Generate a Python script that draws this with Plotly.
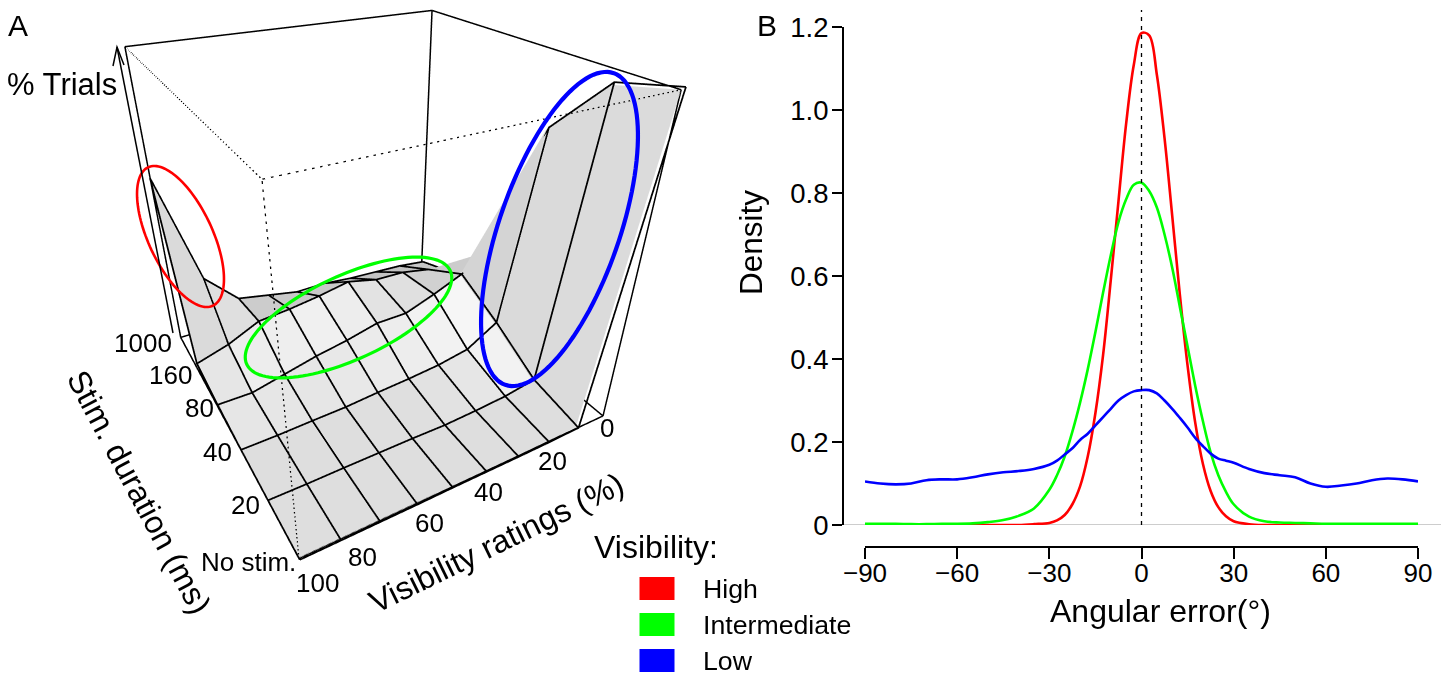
import numpy as np
import plotly.graph_objects as go

W, H = 1452, 675
FONT = "Liberation Sans"

# ---------- Panel A data ----------
visibility = [0, 11.1, 22.2, 33.3, 44.4, 55.6, 66.7, 77.8, 88.9, 100]
duration_labels = ["No stim.", "20", "40", "80", "160", "1000"]
row_nostim = [100.0, 0.6, 0.3, 0.2, 0.2, 0.2, 0.1, 0.1, 0.1, 0.1]
row_20 = [95.9, 3.9, 1.9, 1.0, 0.4, 0.5, 0.4, 0.3, 0.1, 0.1]
row_40 = [77.8, 13.2, 6.3, 4.2, 3.1, 2.3, 1.3, 0.9, 0.4, 0.2]
row_80 = [27.0, 20.9, 16.2, 12.1, 11.9, 9.0, 6.8, 3.9, 1.0, 1.0]
row_160 = [7.2, 11.9, 14.0, 14.3, 16.9, 14.6, 12.9, 11.8, 6.3, 2.6]
row_1000 = [1.4, 2.7, 3.2, 3.7, 4.8, 4.6, 6.8, 9.0, 20.9, 60.4]
vis_ticks = ["0", "20", "40", "60", "80", "100"]
# grey level of each facet (rows between durations, columns between visibility levels)
shade_0 = [.86, .87, .87, .87, .87, .87, .87, .87, .87]
shade_1 = [.855, .95, .90, .885, .875, .875, .87, .87, .87]
shade_2 = [.83, .965, .95, .93, .92, .91, .90, .90, .90]
shade_3 = [.80, .82, .88, .89, .93, .94, .935, .93, .90]
shade_4 = [.78, .76, .77, .78, .79, .79, .80, .875, .855]

# ---------- Panel B data ----------
angle = [-90, -85, -80, -75, -70, -65, -60, -55, -50, -45, -40, -35, -30, -27.5, -25, -22.5, -20, -17.5, -15, -12.5, -10, -7.5, -5, -2.5, 0,
         2.5, 5, 7.5, 10, 12.5, 15, 17.5, 20, 22.5, 25, 27.5, 30, 35, 40, 45, 50, 55, 60, 65, 70, 75, 80, 85, 90]
high = [0, 0, 0, 0, 0, 0, 0, 0, 0, 0, 0, 0.002, 0.005, 0.011, 0.024, 0.05, 0.093, 0.165, 0.27, 0.41, 0.59, 0.78, 0.967, 1.109, 1.185,
        1.18, 1.085, 0.932, 0.745, 0.554, 0.384, 0.246, 0.147, 0.082, 0.043, 0.021, 0.009, 0.002, 0, 0, 0, 0, 0, 0, 0, 0, 0, 0, 0]
intermediate = [0.003, 0.003, 0.003, 0.002, 0.002, 0.003, 0.003, 0.004, 0.007, 0.012, 0.022, 0.04, 0.085, 0.12, 0.165, 0.225, 0.295, 0.375, 0.465, 0.56, 0.65, 0.73, 0.785, 0.82, 0.825,
                0.805, 0.765, 0.70, 0.62, 0.525, 0.43, 0.335, 0.25, 0.175, 0.12, 0.08, 0.05, 0.02, 0.009, 0.006, 0.005, 0.004, 0.003, 0.003, 0.003, 0.003, 0.003, 0.003, 0.003]
low = [0.105, 0.1, 0.098, 0.1, 0.108, 0.11, 0.11, 0.115, 0.122, 0.127, 0.13, 0.135, 0.145, 0.155, 0.17, 0.185, 0.205, 0.22, 0.24, 0.26, 0.28, 0.30, 0.313, 0.322, 0.325,
       0.325, 0.317, 0.30, 0.28, 0.258, 0.235, 0.21, 0.19, 0.172, 0.16, 0.155, 0.15, 0.135, 0.125, 0.12, 0.115, 0.1, 0.092, 0.095, 0.1, 0.108, 0.112, 0.11, 0.105]
legend_names = ["High", "Intermediate", "Low"]
legend_colors = ["#ff0000", "#00ff00", "#0000ff"]

# ---------- helpers ----------
def px(x): return x / W
def py(y): return 1 - y / H

Z = np.array([row_nostim, row_20, row_40, row_80, row_160, row_1000])
SH = np.array([shade_0, shade_1, shade_2, shade_3, shade_4])
V = np.array(visibility)
R = np.array([5 - j for j in range(len(duration_labels))], float)  # depth position of each duration row
ASPECT = (1.03, 1.0462, 1.019)

verts_x, verts_y, verts_z = [], [], []
for j in range(Z.shape[0]):
    for i in range(Z.shape[1]):
        verts_x.append(V[i]); verts_y.append(R[j]); verts_z.append(Z[j, i])
nc = Z.shape[1]
tri_i, tri_j, tri_k, colors = [], [], [], []
for j in range(Z.shape[0] - 1):
    for i in range(nc - 1):
        a, b, c, d = j*nc+i, j*nc+i+1, (j+1)*nc+i+1, (j+1)*nc+i
        g = int(round(SH[j, i]*255))
        col = f"rgb({g},{g},{g})"
        tri_i += [a, a]; tri_j += [b, c]; tri_k += [c, d]; colors += [col, col]

fig = go.Figure()
fig.add_trace(go.Mesh3d(x=verts_x, y=verts_y, z=verts_z, i=tri_i, j=tri_j, k=tri_k, facecolor=colors,
                        flatshading=True, hoverinfo="skip", showscale=False,
                        lighting=dict(ambient=1, diffuse=0, specular=0, roughness=1, fresnel=0)))

# wire lines nudged a hair toward the viewer so they sit on top of the facets
OFF = (0.25, 0.06, 1.0)
wx, wy, wz = [], [], []
for i in range(nc):
    wx += [V[i] + OFF[0]]*len(R) + [None]; wy += list(R + OFF[1]) + [None]; wz += list(Z[:, i] + OFF[2]) + [None]
for j in range(Z.shape[0]):
    wx += list(V + OFF[0]) + [None]; wy += [R[j] + OFF[1]]*nc + [None]; wz += list(Z[j] + OFF[2]) + [None]
fig.add_trace(go.Scatter3d(x=wx, y=wy, z=wz, mode="lines", line=dict(color="black", width=3.5), hoverinfo="skip", showlegend=False, connectgaps=False))

# box
x0, x1, y0, y1, z0, z1 = 0, 100, 0, 5, 0, 100
solid = [((x1,y1,z0),(x0,y1,z0)), ((x1,y1,z0),(x1,y0,z0)), ((x1,y0,z0),(x0,y0,z0)), ((x0,y0,z0),(x0,y1,z0)),
         ((x1,y0,z1),(x0,y0,z1)), ((x0,y0,z1),(x0,y1,z1)),
         ((x1,y0,z0),(x1,y0,z1)), ((x0,y0,z0),(x0,y0,z1)), ((x0,y1,z0),(x0,y1,z1))]
dotted = [((x1,y1,z0),(x1,y1,z1)), ((x1,y1,z1),(x1,y0,z1)), ((x1,y1,z1),(x0,y1,z1))]
def seg(lst):
    xs, ys, zs = [], [], []
    for a, b in lst:
        xs += [a[0], b[0], None]; ys += [a[1], b[1], None]; zs += [a[2], b[2], None]
    return xs, ys, zs
sx, sy, sz = seg(solid)
fig.add_trace(go.Scatter3d(x=sx, y=sy, z=sz, mode="lines", line=dict(color="black", width=3), hoverinfo="skip", showlegend=False))
dx, dy, dz = seg(dotted)
fig.add_trace(go.Scatter3d(x=dx, y=dy, z=dz, mode="lines", line=dict(color="black", width=2.5, dash="dot"), hoverinfo="skip", showlegend=False))

noaxis = dict(visible=False, showgrid=False, zeroline=False, showspikes=False)
scene = dict(domain=dict(x=[0, 754/W], y=[1-568/H, 1]),
             xaxis=dict(range=[-1.5, 101.5], **noaxis), yaxis=dict(range=[-0.075, 5.075], **noaxis), zaxis=dict(range=[-1.5, 101.5], **noaxis),
             aspectmode="manual", aspectratio=dict(x=ASPECT[0], y=ASPECT[1], z=ASPECT[2]),
             camera=dict(eye=dict(x=0.8468, y=1.5064, z=0.9542), center=dict(x=0.0182, y=0.0376, z=-0.121), up=dict(x=0, y=0, z=1),
                         projection=dict(type="perspective")))

# ---------- Panel B ----------
for name, vals, col in zip(legend_names, [high, intermediate, low], legend_colors):
    fig.add_trace(go.Scatter(x=angle, y=vals, mode="lines", name=name, line=dict(color=col, width=2.6, shape="spline", smoothing=1.0),
                             showlegend=False, xaxis="x", yaxis="y", hoverinfo="skip"))

fontc = dict(family=FONT, color="black")
xax = dict(domain=[865/W, 1418/W], range=[-90, 90], anchor="free", position=py(547), showgrid=False, zeroline=False,
           tickmode="array", tickvals=[-90, -60, -30, 0, 30, 60, 90], ticks="outside", ticklen=11, tickwidth=2, ticklabelstandoff=-8,
           showline=True, linewidth=2, linecolor="black", tickcolor="black", tickfont=dict(size=26, **fontc))
yax = dict(domain=[py(525), py(27)], range=[0, 1.2], anchor="free", position=px(843), showgrid=False, zeroline=False,
           tickmode="array", tickvals=[0, .2, .4, .6, .8, 1.0, 1.2], ticktext=["0", "0.2", "0.4", "0.6", "0.8", "1.0", "1.2"],
           ticks="outside", ticklen=10, tickwidth=2, ticklabelstandoff=-2, showline=True, linewidth=2, linecolor="black", tickcolor="black",
           tickfont=dict(size=27.5, **fontc))

shapes = [
    dict(type="line", xref="paper", yref="y", x0=px(843), x1=px(1441), y0=0, y1=0, line=dict(color="#bdbdbd", width=1.5), layer="below"),
    dict(type="line", xref="x", yref="paper", x0=0, x1=0, y0=py(525), y1=py(10), line=dict(color="black", width=1.3, dash="4px,5px")),
]
def ellipse(cx, cy, a, b, deg, color, width):
    th = np.radians(deg); t = np.linspace(0, 2*np.pi, 121)
    xs = cx + a*np.cos(t)*np.cos(th) - b*np.sin(t)*np.sin(th)
    ys = cy + a*np.cos(t)*np.sin(th) + b*np.sin(t)*np.cos(th)
    path = "M " + " L ".join(f"{px(x):.5f},{py(y):.5f}" for x, y in zip(xs, ys)) + " Z"
    return dict(type="path", path=path, xref="paper", yref="paper", line=dict(color=color, width=width))
shapes += [ellipse(180.5, 236.5, 76.4, 32, 64.9, "#ff0000", 2.6),
           ellipse(348.5, 317.5, 112, 42, -24.7, "#00ff00", 3.2),
           ellipse(559.5, 229, 165, 60, -70.8, "#0000ff", 4.2)]
def pline(pts, width=1.5):
    path = "M " + " L ".join(f"{px(x):.5f},{py(y):.5f}" for x, y in pts)
    return dict(type="path", path=path, xref="paper", yref="paper", line=dict(color="black", width=width))
shapes += [pline([(173, 333), (117, 47)]), pline([(113, 66), (117, 47), (124, 65)])]
for yy, col in zip([577, 613, 649], legend_colors):
    shapes.append(dict(type="rect", xref="paper", yref="paper", x0=px(639.5), x1=px(674.5), y0=py(yy), y1=py(yy+23), fillcolor=col, line=dict(width=0)))

def note(text, x, y, size, angle=0, anchor="center"):
    return dict(text=text, x=px(x), y=py(y), xref="paper", yref="paper", xanchor=anchor, yanchor="middle", showarrow=False,
                font=dict(size=size, **fontc), textangle=angle, align="center")
ann = [note("A", 18, 26, 30), note("B", 767, 26, 30), note("% Trials", 62, 85, 31),
       note("Density", 751, 243, 31.5, -90), note("Angular error(°)", 1160, 611, 32),
       note("Stim. duration (ms)", 139, 492, 32, 62), note("Visibility ratings (%)", 496, 543, 32, -26),
       note("Visibility:", 592, 547, 32, anchor="left")]
for lab, y in zip(legend_names, [589, 625, 661]):
    ann.append(note(lab, 701, y, 26.7, anchor="left"))
for lab, (x, y) in zip(duration_labels, [(248, 562), (245, 505), (217, 452), (199, 408), (170, 375), (143, 343)]):
    ann.append(note(lab, x, y, 26))
for lab, (x, y) in zip(vis_ticks, [(607, 428), (552, 461), (488, 492), (429, 523), (362, 557), (317, 583)]):
    ann.append(note(lab, x, y, 26))

fig.update_layout(width=W, height=H, margin=dict(l=0, r=0, t=0, b=0, autoexpand=False), paper_bgcolor="white", plot_bgcolor="rgba(0,0,0,0)",
                  scene=scene, xaxis=xax, yaxis=yax, shapes=shapes, annotations=ann, showlegend=False, font=dict(family=FONT))
fig.write_html("out.html", post_script="document.body.style.margin='0';", config=dict(displayModeBar=False))
